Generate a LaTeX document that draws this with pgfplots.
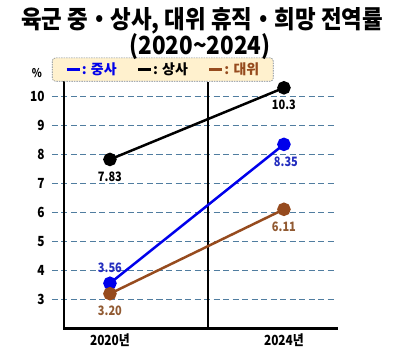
\documentclass[border=0pt]{standalone}
\usepackage{pgfplots}
\pgfplotsset{compat=1.18}
\usepackage{fontspec}
\setmainfont{Noto Sans CJK KR}
\newfontfamily\narrow{Noto Sans CJK KR}[FakeStretch=0.85]
\newfontfamily\titlef{Noto Sans CJK KR}[FakeStretch=0.9]
\definecolor{cblue}{RGB}{0,0,235}
\definecolor{cbluet}{RGB}{35,45,190}
\definecolor{cbrown}{RGB}{150,75,30}
\definecolor{cbrownt}{RGB}{145,90,50}
\definecolor{cgrid}{RGB}{80,125,160}
\definecolor{cleg}{RGB}{255,241,206}
\definecolor{clegb}{RGB}{120,130,140}
\begin{document}
\begin{tikzpicture}
\begin{axis}[name=ax, scale only axis, width=285bp, height=246.5bp,
  xmin=-0.333, xmax=1.305, ymin=2, ymax=10.5,
  axis line style={draw=none}, major tick length=0pt,
  ytick={3,...,10}, xtick={0,1}, xticklabels={2020년,2024년},
  ymajorgrids, major grid style={cgrid, line width=0.8pt, dash pattern=on 6bp off 3.5bp},
  ticklabel style={font=\narrow\bfseries\fontsize{14}{14}\selectfont},
  yticklabel style={xshift=-4bp},
  xticklabel style={yshift=-2bp},
  /pgf/number format/assume math mode=true,
  clip=false,
  legend columns=3,
  legend cell align=left,
  legend style={at={(0,1)}, anchor=south west, yshift=0.5bp,
    draw=clegb, dash pattern=on 1.5bp off 1bp, line width=0.6pt, fill=cleg, rounded corners=3bp,
    inner xsep=13bp, inner ysep=4bp,
    nodes={inner sep=1bp, font=\bfseries\fontsize{14}{14}\selectfont},
    /tikz/every odd column/.append style={column sep=0bp},
    /tikz/every even column/.append style={column sep=19bp}},
  legend image code/.code={\draw[solid, line width=2.5pt, sharp corners] (0bp,0bp) -- (13bp,0bp);},
]
% frame lines
\addplot[black, line width=2.6pt, forget plot, line cap=rect] coordinates {(-0.264,10.5) (-0.264,2) (1.305,2)};
\addplot[black, line width=2.6pt, forget plot] coordinates {(0.563,2) (0.563,10.5)};
% data
\addplot[cblue, line width=2.5pt, mark=*, mark size=5.5bp] coordinates {(0,3.56) (1,8.35)};
\addlegendentry{\textcolor{cblue}{: 중사}}
\addplot[black, line width=2.5pt, mark=*, mark size=5.5bp] coordinates {(0,7.83) (1,10.3)};
\addlegendentry{\textcolor{black}{: 상사}}
\addplot[cbrown, line width=2.5pt, mark=*, mark size=5.5bp] coordinates {(0,3.20) (1,6.11)};
\addlegendentry{\textcolor{cbrown}{: 대위}}
% labels
\addplot[draw=none, mark=none, forget plot, nodes near coords, point meta=explicit symbolic,
  nodes near coords align={below},
  every node near coord/.append style={inner sep=0pt, yshift=-12bp, text=black, font=\narrow\bfseries\fontsize{13}{13}\selectfont}]
  coordinates {(0,7.83)[7.83] (1,10.3)[10.3]};
\addplot[draw=none, mark=none, forget plot, nodes near coords, point meta=explicit symbolic,
  nodes near coords align={below},
  every node near coord/.append style={inner sep=0pt, yshift=-12bp, xshift=2bp, text=cbluet, font=\narrow\bfseries\fontsize{13}{13}\selectfont}]
  coordinates {(1,8.35)[8.35]};
\addplot[draw=none, mark=none, forget plot, nodes near coords, point meta=explicit symbolic,
  nodes near coords align={above},
  every node near coord/.append style={inner sep=0pt, yshift=10bp, text=cbluet, font=\narrow\bfseries\fontsize{13}{13}\selectfont}]
  coordinates {(0,3.56)[3.56]};
\addplot[draw=none, mark=none, forget plot, nodes near coords, point meta=explicit symbolic,
  nodes near coords align={below},
  every node near coord/.append style={inner sep=0pt, yshift=-12bp, text=cbrownt, font=\narrow\bfseries\fontsize{13}{13}\selectfont}]
  coordinates {(0,3.20)[3.20] (1,6.11)[6.11]};
\end{axis}
\coordinate (TL) at ([xshift=-52bp, yshift=246.5bp+29bp+53bp]ax.south west);
\path[use as bounding box] (TL) rectangle ([xshift=403bp, yshift=-358bp]TL);
\node[font=\titlef\bfseries\fontsize{25}{25}\selectfont] at ([xshift=202bp, yshift=-21bp]TL) {육군 중・상사, 대위 휴직・희망 전역률};
\node[font=\titlef\bfseries\fontsize{25}{25}\selectfont] at ([xshift=200bp, yshift=-47bp]TL) {(2020\textasciitilde 2024)};
\node[font=\narrow\bfseries\fontsize{12}{12}\selectfont] at ([xshift=37bp, yshift=-73bp]TL) {\%};
\end{tikzpicture}
\end{document}
